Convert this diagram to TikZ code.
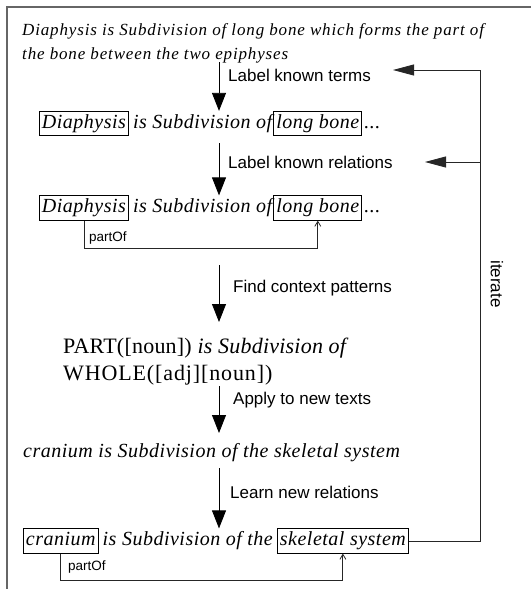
\documentclass[tikz,border=0pt]{standalone}
\usepackage{fontspec}
\setmainfont{Liberation Serif}
\newfontfamily\lsans{Liberation Sans}
\newfontfamily\wserif[LetterSpace=2.5]{Liberation Serif}
\newfontfamily\topserif[LetterSpace=5]{Liberation Serif}
\newfontfamily\pserif[LetterSpace=1]{Liberation Serif}
\newfontfamily\whserif[LetterSpace=4]{Liberation Serif}
\usetikzlibrary{arrows.meta}
\begin{document}
\begin{tikzpicture}[x=1pt,y=-1pt,
  txt/.style={font=\wserif\fontsize{20}{22}\selectfont\itshape, inner sep=0pt, text height=14pt, text depth=5pt},
  toptxt/.style={font=\topserif\fontsize{17}{24}\selectfont\itshape, inner sep=0pt},
  rtxt/.style={font=\pserif\fontsize{22}{27}\selectfont, inner sep=0pt},
  tbox/.style={txt, draw, line width=0.8pt, inner xsep=2.5pt, inner ysep=2.7pt},
  lab/.style={font=\lsans\fontsize{17}{20}\selectfont, inner sep=0pt, anchor=west},
  smalllab/.style={font=\lsans\fontsize{13.5}{16}\selectfont, inner sep=0pt, anchor=west},
  mainarrow/.style={line width=0.8pt, -{Triangle[length=18pt,width=14pt]}},
  fbline/.style={line width=0.8pt, draw=black!85},
  fbarrow/.style={fbline, -{Triangle[length=21pt,width=11pt]}},
  poarrow/.style={line width=0.8pt, draw=black!85, -{Straight Barb[length=5pt,width=6pt,line width=0.8pt]}},
  frame/.style={line width=1.3pt, draw=black!60}
]
\useasboundingbox (0,0) rectangle (531,589);
% frame
\coordinate (fbl) at (7,589);
\coordinate (ftl) at (7,7);
\coordinate (ftr) at (531,7);
\draw[frame] (fbl) -- (ftl) -- (ftr);

% line 1
\node[toptxt, anchor=base west, align=left] (t1) at (22,59)
  {Diaphysis is Subdivision of long bone which forms the part of\\the bone between the two epiphyses};

% line 3
\node[tbox, anchor=west] (d1) at (39,123.5) {Diaphysis};
\node[txt, anchor=base west] (m1) at ([xshift=4pt]d1.base east) {is Subdivision of};
\node[tbox, anchor=base west] (lb1) at ([xshift=1pt]m1.base east) {long bone};
\node[txt, anchor=base west] (e1) at ([xshift=2pt]lb1.base east) {...};

% line 4
\node[tbox, anchor=west] (d2) at (39,208) {Diaphysis};
\node[txt, anchor=base west] (m2) at ([xshift=4pt]d2.base east) {is Subdivision of};
\node[tbox, anchor=base west] (lb2) at ([xshift=1pt]m2.base east) {long bone};
\node[txt, anchor=base west] (e2) at ([xshift=2pt]lb2.base east) {...};
\coordinate (po1) at (0,248);
\draw[poarrow] (d2.south) -- (d2.south |- po1) -| (lb2.south);
\node[smalllab] (pl1) at (89,238.5) {partOf};

% line 5
\node[rtxt, anchor=base west, align=left] (pw) at (63,380)
  {PART([noun]) \textit{is Subdivision of}\\{\whserif WHOLE([adj][noun])}};

% line 6
\node[txt, anchor=west] (cr) at (23,453) {cranium is Subdivision of the skeletal system};

% line 7
\node[tbox, anchor=west] (c7) at (23,541) {cranium};
\node[txt, anchor=base west] (m7) at ([xshift=4pt]c7.base east) {is Subdivision of the};
\node[tbox, anchor=base west] (ss) at ([xshift=4pt]m7.base east) {skeletal system};
\coordinate (po2) at (0,580);
\draw[poarrow] (c7.south) -- (c7.south |- po2) -| (ss.south);
\node[smalllab] (pl2) at (68,567) {partOf};

% main arrows
\coordinate (a1s) at (219,62);
\coordinate (a2s) at (219,143);
\coordinate (a3s) at (219,265);
\coordinate (a4s) at (219,386);
\coordinate (a5s) at (219,468);
\draw[mainarrow] (a1s) -- (a1s |- d1.north);
\draw[mainarrow] (a2s) -- (a2s |- d2.north);
\draw[mainarrow] (a3s) -- (219,322);
\draw[mainarrow] (a4s) -- (219,433);
\draw[mainarrow] (a5s) -- (a5s |- c7.north);

\node[lab] (l1) at (228,75) {Label known terms};
\node[lab] (l2) at (228,162) {Label known relations};
\node[lab] (l3) at (233,288) {Find context patterns};
\node[lab] (l4) at (233,400) {Apply to new texts};
\node[lab] (l5) at (230,492) {Learn new relations};

% feedback
\coordinate (r1) at (480,70);
\coordinate (r2) at (480,162);
\coordinate (t1e) at (393,70);
\coordinate (t2e) at (425,162);
\draw[fbline] (ss.east) -| (r1);
\draw[fbarrow] (r1) -- (t1e);
\draw[fbarrow] (r2) -- (t2e);
\node[font=\lsans\fontsize{17}{20}\selectfont, rotate=-90, inner sep=0pt] (it) at (497,284) {iterate};
\end{tikzpicture}
\end{document}
